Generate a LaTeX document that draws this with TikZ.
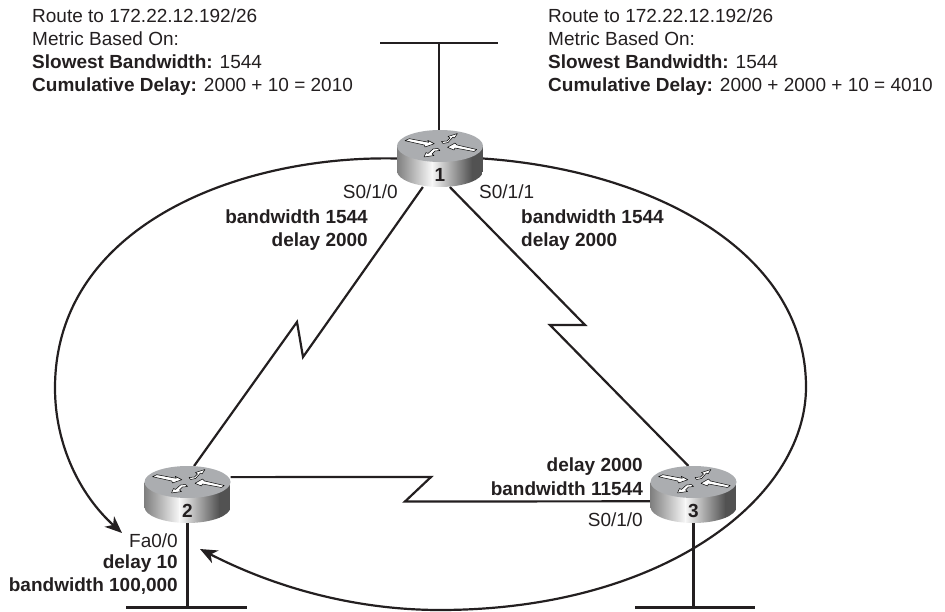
\documentclass[tikz,border=0pt]{standalone}
\usepackage{fontspec}
\setmainfont{Liberation Sans}
\usetikzlibrary{positioning, calc, arrows.meta}

\definecolor{inkdark}{HTML}{231F20}
\definecolor{routertop}{HTML}{ABADB0}

\tikzset{
    link/.style={draw=inkdark, line width=2.2pt, line join=miter},
    loopline/.style={draw=inkdark, line width=2.2pt},
    looparrow/.style={loopline, -{Stealth[length=17pt, width=14pt, inset=5pt]}},
    routerbox/.style={minimum width=86pt, minimum height=57pt, inner sep=0pt, outer sep=0pt},
    arrowmark/.style={fill=white, draw=black, line width=0.5pt, line join=round},
    txt/.style={font=\fontsize{19}{22.8}\selectfont, text=inkdark, inner sep=0pt},
    txtbold/.style={txt, font=\fontsize{19}{23.5}\selectfont\bfseries},
    routernum/.style={font=\fontsize{19}{19}\selectfont\bfseries, text=inkdark, inner sep=0pt}
}

% Router drawn over its box: name, number
\newcommand{\routerbody}[2]{
    \begin{scope}[shift={(#1.center)}]
        \begin{scope}
            \clip (-43,-12.5) -- (-43,12.5) .. controls (-43,21.3) and (-23.7,28.5) .. (0,28.5)
                .. controls (23.7,28.5) and (43,21.3) .. (43,12.5) -- (43,-12.5) -- cycle;
            \shade[left color=black!50, right color=black!3] (-43,-13) rectangle (-8,29);
            \shade[left color=black!3, right color=black!68] (-8.2,-13) rectangle (32,29);
            \fill[black!68] (31.8,-13) rectangle (43,29);
        \end{scope}
        \fill[routertop] (0,-12.5) ellipse[x radius=43, y radius=16];
        \begin{scope}[shift={(0,-12.5)}]
            \filldraw[arrowmark] (-35,-5.3) -- (-30.7,-7.3) -- (-11.3,-3.7) -- (-12.3,-5.7) -- (-5.7,-2.3) -- (-15,1) -- (-15.7,-1) -- cycle;
            \filldraw[arrowmark] (36.7,3.5) -- (34,5.5) -- (15,2) -- (14,4) -- (7.5,1.3) -- (15,-3) -- (17,-1) -- cycle;
            \filldraw[arrowmark] (1.5,-4.5) -- (7,-5) -- (10,-8) -- (8,-9.5) -- (17.5,-12.5) -- (14.5,-8) -- (13,-9) -- (8,-3.5) -- (3,-2.5) -- cycle;
            \filldraw[arrowmark] (0,4.5) -- (-5,5) -- (-8,8) -- (-6,9.5) -- (-16,11) -- (-14,6.5) -- (-12,7.5) -- (-7,3) -- (-2,2.5) -- cycle;
        \end{scope}
        \node[routernum] at (0,16.5) {#2};
    \end{scope}
}

\begin{document}
\begin{tikzpicture}[x=1pt, y=-1pt]
    \useasboundingbox (0,0) rectangle (945,612);

    % Routers (boxes first, bodies go on top)
    \node[routerbox] (rtone) at (440,158.5) {};
    \node[routerbox] (rttwo) at (187.5,494.5) {};
    \node[routerbox] (rtthree) at (693.5,494.5) {};

    % LAN segments
    \coordinate (lanonel) at (380,43);
    \coordinate (lanoner) at (498,43);
    \coordinate (lanone) at (439,43);
    \coordinate (lantwol) at (126,607.5);
    \coordinate (lantwor) at (247,607.5);
    \coordinate (lantwo) at (rttwo.south |- lantwol);
    \coordinate (lanthreel) at (635,607.5);
    \coordinate (lanthreer) at (755,607.5);
    \coordinate (lanthree) at (rtthree.south |- lanthreel);
    \draw[link] (lanonel) -- (lanoner);
    \draw[link] (lanone) -- (lanone |- rtone.north);
    \draw[link] (lantwol) -- (lantwor);
    \draw[link] (rttwo.south) -- (lantwo);
    \draw[link] (lanthreel) -- (lanthreer);
    \draw[link] (rtthree.south) -- (lanthree);

    % Serial links with their zigzag
    \coordinate (zigleft) at (303,357);
    \coordinate (zagleft) at (297,322);
    \draw[link] (rtone.239) -- (zigleft) -- (zagleft) -- (rttwo.77);
    \coordinate (zigright) at (585,325);
    \coordinate (zagright) at (550,325);
    \draw[link] (rtone.289) -- (zigright) -- (zagright) -- (rtthree.100);
    \coordinate (zigbottom) at (431,477);
    \coordinate (zagbottom) at (405,501.5);
    \draw[link] (rttwo.22) -- (zigbottom) -- (zagbottom) -- (rtthree.189);

    % Routes towards router 2
    \coordinate (lefttip) at (122,533);
    \coordinate (righttip) at (200,549);
    \draw[looparrow] (rtone.west) .. controls (240,155) and (55,225) .. (55,388)
        .. controls (55,445) and (80,495) .. (lefttip);
    \draw[looparrow] (rtone.east) .. controls (650,170) and (806,250) .. (806,387)
        .. controls (806,500) and (660,610) .. (440,610)
        .. controls (360,610) and (280,590) .. (righttip);

    \routerbody{rtone}{1}
    \routerbody{rttwo}{2}
    \routerbody{rtthree}{3}

    % Route texts
    \node[txt, anchor=north west, align=left] (routeleft) at (32,9)
        {Route to 172.22.12.192/26\\Metric Based On:\\\textbf{Slowest Bandwidth:} 1544\\\textbf{Cumulative Delay:} 2000 + 10 = 2010};
    \node[txt, anchor=north west, align=left] (routeright) at (548,9)
        {Route to 172.22.12.192/26\\Metric Based On:\\\textbf{Slowest Bandwidth:} 1544\\\textbf{Cumulative Delay:} 2000 + 2000 + 10 = 4010};

    % Interface labels
    \node[txt, anchor=east] (ifoneleft) at (398,192) {S0/1/0};
    \node[txt, anchor=west] (ifoneright) at (479,192) {S0/1/1};
    \node[txtbold, anchor=east, align=right] (paramleft) at (368,230) {bandwidth 1544\\delay 2000};
    \node[txtbold, anchor=west, align=left] (paramright) at (521,230) {bandwidth 1544\\delay 2000};
    \node[txtbold, anchor=east, align=right] (paramthree) at (643,476.5) {delay 2000\\bandwidth 11544};
    \node[txt, anchor=east] (ifthree) at (643,520) {S0/1/0};
    \node[txt, anchor=east] (iftwo) at (178,541) {Fa0/0};
    \node[txtbold, anchor=east, align=right] (paramtwo) at (178,574.5) {delay 10\\bandwidth 100,000};
\end{tikzpicture}
\end{document}
